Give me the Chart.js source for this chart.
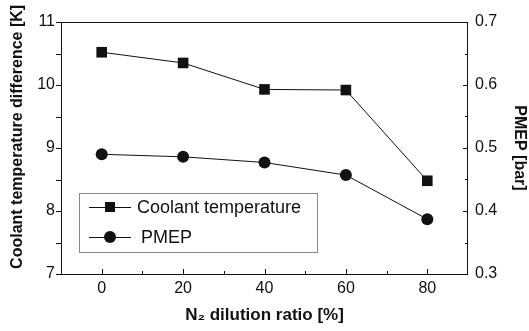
<!DOCTYPE html>
<html>
<head>
<meta charset="utf-8">
<script src="https://cdn.jsdelivr.net/npm/chart.js@4"></script>
<style>
  html, body { margin: 0; padding: 0; background: #fff; }
  #wrap { width: 529px; height: 331px; }
</style>
</head>
<body>
<div id="wrap"><canvas id="myChart" width="529" height="331"></canvas></div>
<script>
const dilutionRatio = [0, 20, 40, 60, 80];
const coolantTemp = [10.52, 10.35, 9.93, 9.92, 8.48];
const pmep = [0.490, 0.486, 0.477, 0.457, 0.387];
const xTicks = [0, 20, 40, 60, 80];
const leftTicks = [7, 8, 9, 10, 11];
const rightTicks = [0.3, 0.4, 0.5, 0.6, 0.7];

const font = "Arial, 'Liberation Sans', sans-serif";
const ink = "#111";

const midpoints = (arr) => arr.slice(1).map((v, i) => (v + arr[i]) / 2);

// frame, inward/outward tick marks and the boxed legend
const decorations = {
  id: "decorations",
  afterDraw(chart) {
    const { ctx, chartArea: a } = chart;
    const x = chart.scales.x, y = chart.scales.y, y1 = chart.scales.y1;
    ctx.save();
    ctx.strokeStyle = ink;
    ctx.lineWidth = 1;
    ctx.strokeRect(a.left + 0.5, a.top + 0.5, a.right - a.left - 1, a.bottom - a.top);
    ctx.beginPath();
    xTicks.forEach((v) => { const px = Math.round(x.getPixelForValue(v)) + 0.5; ctx.moveTo(px, a.bottom); ctx.lineTo(px, a.bottom - 5); });
    midpoints(xTicks).forEach((v) => { const px = Math.round(x.getPixelForValue(v)) + 0.5; ctx.moveTo(px, a.bottom); ctx.lineTo(px, a.bottom - 3); });
    leftTicks.concat(midpoints(leftTicks)).forEach((v) => { const py = Math.round(y.getPixelForValue(v)) + 0.5; ctx.moveTo(a.left, py); ctx.lineTo(a.left - 5, py); });
    rightTicks.forEach((v) => { const py = Math.round(y1.getPixelForValue(v)) + 0.5; ctx.moveTo(a.right, py); ctx.lineTo(a.right - 5, py); });
    midpoints(rightTicks).forEach((v) => { const py = Math.round(y1.getPixelForValue(v)) + 0.5; ctx.moveTo(a.right, py); ctx.lineTo(a.right - 3, py); });
    ctx.stroke();

    // legend box
    const bx = 79.5, by = 193.5, bw = 238, bh = 59;
    ctx.fillStyle = "#fff";
    ctx.fillRect(bx, by, bw, bh);
    ctx.strokeStyle = "#888";
    ctx.strokeRect(bx, by, bw, bh);
    const rows = [
      { ds: chart.data.datasets[0], cy: 207, tx: 137 },
      { ds: chart.data.datasets[1], cy: 237, tx: 141 },
    ];
    rows.forEach((r) => {
      ctx.strokeStyle = ink;
      ctx.beginPath();
      ctx.moveTo(89, r.cy + 0.5);
      ctx.lineTo(131, r.cy + 0.5);
      ctx.stroke();
      ctx.fillStyle = ink;
      if (r.ds.pointStyle === "rect") {
        ctx.fillRect(105, r.cy - 5, 10, 10);
      } else {
        ctx.beginPath();
        ctx.arc(110, r.cy, 6, 0, Math.PI * 2);
        ctx.fill();
      }
      ctx.font = "18px " + font;
      ctx.textBaseline = "middle";
      ctx.fillText(r.ds.label, r.tx, r.cy + 1);
    });
    ctx.restore();
  },
};

const ctx = document.getElementById("myChart").getContext("2d");
const myChart = new Chart(ctx, {
  type: "line",
  data: {
    datasets: [
      {
        label: "Coolant temperature",
        data: dilutionRatio.map((v, i) => ({ x: v, y: coolantTemp[i] })),
        yAxisID: "y",
        borderColor: ink,
        borderWidth: 1,
        pointStyle: "rect",
        pointRadius: 7.5,
        pointBackgroundColor: ink,
        pointBorderWidth: 0,
        tension: 0,
      },
      {
        label: "PMEP",
        data: dilutionRatio.map((v, i) => ({ x: v, y: pmep[i] })),
        yAxisID: "y1",
        borderColor: ink,
        borderWidth: 1,
        pointStyle: "circle",
        pointRadius: 6,
        pointBackgroundColor: ink,
        pointBorderWidth: 0,
        tension: 0,
      },
    ],
  },
  plugins: [decorations],
  options: {
    responsive: false,
    animation: false,
    layout: { padding: { top: 22, left: 0, right: 0, bottom: 0 } },
    plugins: { legend: { display: false }, tooltip: { enabled: false } },
    scales: {
      x: {
        type: "linear",
        min: -10,
        max: 90,
        afterBuildTicks: (s) => { s.ticks = xTicks.map((v) => ({ value: v })); },
        afterFit: (s) => { s.height = 57; },
        grid: { display: false, drawTicks: false },
        border: { display: false },
        ticks: { color: ink, font: { family: font, size: 16 }, padding: 5, maxRotation: 0 },
        title: {
          display: true,
          text: "N\u2082 dilution ratio [%]",
          color: ink,
          font: { family: font, size: 17, weight: "bold" },
          padding: { top: 0, bottom: 5 },
        },
      },
      y: {
        position: "left",
        min: 7,
        max: 11,
        afterBuildTicks: (s) => { s.ticks = leftTicks.map((v) => ({ value: v })); },
        afterFit: (s) => { s.width = 61; },
        grid: { display: false, drawTicks: false },
        border: { display: false },
        ticks: { color: ink, font: { family: font, size: 16 }, padding: 6 },
        title: {
          display: true,
          // leading spaces nudge the centred title upward, as in the original
          text: "\u00a0\u00a0\u00a0\u00a0\u00a0Coolant temperature difference [K]",
          color: ink,
          font: { family: font, size: 16, weight: "bold" },
          padding: { top: 8, bottom: 0 },
        },
      },
      y1: {
        position: "right",
        min: 0.3,
        max: 0.7,
        afterBuildTicks: (s) => { s.ticks = rightTicks.map((v) => ({ value: v })); },
        afterFit: (s) => { s.width = 61; },
        grid: { display: false, drawTicks: false },
        border: { display: false },
        ticks: { color: ink, font: { family: font, size: 16 }, padding: 7, callback: (v) => v.toFixed(1) },
        title: {
          display: true,
          text: "PMEP [bar]",
          color: ink,
          font: { family: font, size: 16, weight: "bold" },
          padding: { top: 0, bottom: 2 },
        },
      },
    },
  },
});
</script>
</body>
</html>
